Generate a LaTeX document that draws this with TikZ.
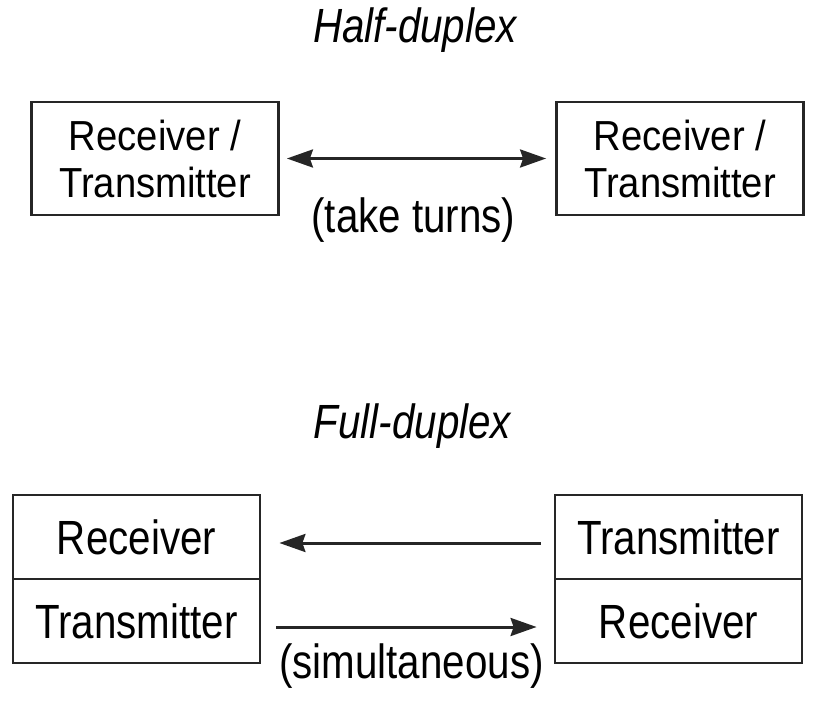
\documentclass[tikz,border=0pt]{standalone}
\usepackage{fontspec}
\setmainfont{Liberation Sans}[FakeStretch=0.84]
\newfontfamily\duofont{Liberation Sans}[FakeStretch=0.91]
\usepackage{tikz}
\usetikzlibrary{arrows.meta}
\definecolor{edge}{HTML}{262626}
\tikzset{
  box/.style={draw=edge, line width=2.8pt, inner sep=0pt, minimum width=247pt},
  duobox/.style={box, minimum height=113pt, align=center, font=\duofont\fontsize{42}{47}\selectfont},
  cell/.style={box, minimum height=84pt, font=\fontsize{48}{52}\selectfont},
  link/.style={draw=edge, line width=3pt},
  tip/.tip={Stealth[length=26pt, width=18pt, inset=3pt]},
  lab/.style={font=\fontsize{48}{52}\selectfont, anchor=base, inner sep=0pt},
  heading/.style={lab, font=\fontsize{48}{52}\selectfont\itshape},
}

\begin{document}
\begin{tikzpicture}[x=1pt, y=-1pt]
\useasboundingbox (0,0) rectangle (814,703);

% Half-duplex
\node[heading] (halftitle) at (415,43) {Half-duplex};
\node[duobox] (hdleft) at (155,158.5) {Receiver /\\Transmitter};
\node[duobox] (hdright) at (680,158.5) {Receiver /\\Transmitter};
\draw[link, tip-tip, shorten <=7pt, shorten >=9pt] (hdleft.east) -- (hdright.west);
\node[lab] (turns) at (413.5,233) {(take turns)};

% Full-duplex
\node[heading] (fulltitle) at (412.5,438) {Full-duplex};
\node[cell] (fdlrx) at (136.5,537) {Receiver};
\node[cell] (fdltx) at (136.5,621) {Transmitter};
\node[cell] (fdrtx) at (678.5,537) {Transmitter};
\node[cell] (fdrrx) at (678.5,621) {Receiver};
\draw[link, -tip, shorten <=13pt, shorten >=18pt] ([yshift=-6pt]fdrtx.west) -- ([yshift=-6pt]fdlrx.east);
\draw[link, -tip, shorten <=15pt, shorten >=17pt] ([yshift=-6pt]fdltx.east) -- ([yshift=-6pt]fdrrx.west);
\node[lab] (simul) at (411.5,678) {(simultaneous)};
\end{tikzpicture}
\end{document}
